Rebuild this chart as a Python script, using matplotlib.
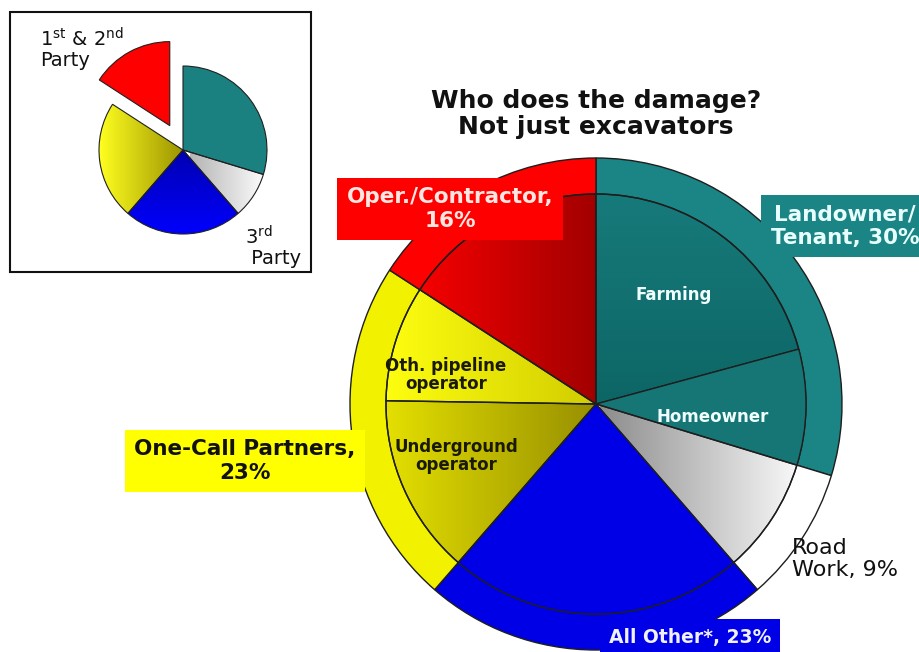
import numpy as np
import matplotlib.pyplot as plt
import matplotlib.colors as mcolors
from matplotlib.patches import Rectangle

plt.rcParams['font.family'] = ['DejaVu Sans']

W, H = 919, 652

# main categories (outer ring), clockwise from 12 o'clock
main_labels = ['Landowner/\nTenant, 30%', 'Road\nWork, 9%', 'All Other*, 23%',
               'One-Call Partners,\n23%', 'Oper./Contractor,\n16%']
main_pct = [30, 9, 23, 23, 16]
main_colors = ['#1b8484', '#ffffff', '#0000e6', '#f2f200', '#ff0000']

# sub categories (inner pie), same order
sub_labels = ['Farming', 'Homeowner', '', '', 'Underground\noperator',
              'Oth. pipeline\noperator', '']
sub_pct = [21, 9, 9, 23, 14, 9, 16]
sub_colors = ['#116e6e', '#167676', '#ffffff', '#0000e6', '#c8c200', '#f5f500', '#e00000']

# inset: 1st & 2nd party vs 3rd party
inset_pct = [30, 9, 23, 23, 16]
inset_colors = ['#1a8080', '#ffffff', '#0000dd', '#e0e000', '#ff0000']
inset_explode = [0, 0, 0, 0, 0.33]


def gradient(ax, patch, c_start, c_end, x0, x1, y0, y1, axis='x'):
    t = np.linspace(0, 1, 256)
    c0 = np.array(mcolors.to_rgb(c_start))
    c1 = np.array(mcolors.to_rgb(c_end))
    cols = c0 + (c1 - c0) * t[:, None]
    img = cols[None, :, :] if axis == 'x' else cols[::-1][:, None, :]
    im = ax.imshow(img, extent=(x0, x1, y0, y1), aspect='auto',
                   interpolation='bilinear', zorder=patch.get_zorder() - 0.1)
    im.set_clip_path(patch)
    patch.set_facecolor('none')


fig = plt.figure(figsize=(W / 100, H / 100), dpi=100)
ax = fig.add_axes([0, 0, 1, 1])

cx, cy = 596, H - 404
edge = dict(edgecolor='#1e1e1e', linewidth=1.0)

outer, _ = ax.pie(main_pct, radius=246, center=(cx, cy), startangle=90,
                  counterclock=False, colors=main_colors,
                  wedgeprops=dict(width=36, **edge), frame=True)
inner, _ = ax.pie(sub_pct, radius=210, center=(cx, cy), startangle=90,
                  counterclock=False, colors=sub_colors,
                  wedgeprops=edge, frame=True)

# shading like the original slide
gradient(ax, inner[0], '#0c6464', '#177a7a', cx, cx + 210, cy - 20, cy + 210, axis='y')
gradient(ax, inner[2], '#8c8c8c', '#ffffff', 600, 810, cy - 210, cy + 10)
gradient(ax, inner[4], '#e6e200', '#968e00', 380, 600, cy - 210, cy + 20)
gradient(ax, inner[5], '#ffff10', '#d0cc00', 380, 600, cy - 20, cy + 210)
gradient(ax, inner[6], '#ff0000', '#a00000', 400, 600, cy - 10, cy + 212)

# inner labels
sub_pos = {0: (674, 295), 1: (713, 417), 4: (456, 456), 5: (446, 375)}
for i, (x, y) in sub_pos.items():
    col = '#f0ffff' if i < 2 else '#1a1a00'
    ax.text(x, H - y, sub_labels[i], ha='center', va='center', fontsize=12,
            fontweight='bold', color=col, linespacing=1.05, zorder=5)

# outer labels with coloured boxes
box_lab = [
    (0, 845, 226, '#1b8484', '#e8ffff', 15.5),
    (4, 450, 209, '#ff0000', '#ffe6e0', 15.5),
    (3, 245, 461, '#ffff00', '#111111', 15.5),
    (2, 690, 637, '#0000e6', '#f0f0ff', 13.5),
]
for i, x, y, bc, tc, fs in box_lab:
    ax.text(x, H - y, main_labels[i], ha='center', va='center', fontsize=fs,
            fontweight='bold', color=tc, linespacing=1.2, zorder=6,
            bbox=dict(boxstyle='square,pad=0.45', facecolor=bc, edgecolor='none'))
ax.text(792, H - 559, main_labels[1], ha='left', va='center', fontsize=16,
        color='#111111', linespacing=1.15, zorder=6)

ax.text(cx, H - 114, 'Who does the damage?\nNot just excavators', ha='center',
        va='center', fontsize=18, fontweight='bold', color='#111111',
        linespacing=1.1, zorder=6)

# inset pie
icx, icy, ir = 183, H - 150, 84
ins, _ = ax.pie(inset_pct, radius=ir, center=(icx, icy), startangle=90,
                counterclock=False, colors=inset_colors,
                explode=[e * ir for e in inset_explode],
                wedgeprops=dict(edgecolor='#202020', linewidth=0.8), frame=True)
gradient(ax, ins[1], '#b4b4b4', '#ffffff', 190, 268, icy - 84, icy + 5)
gradient(ax, ins[3], '#ffff20', '#9a9200', 99, 185, icy - 84, icy + 84)
gradient(ax, ins[2], '#0000ff', '#0000b0', 110, 260, icy - 86, icy + 2, axis='y')
ax.add_patch(Rectangle((10, H - 272), 301, 260, fill=False, edgecolor='#111111',
                       linewidth=1.5, zorder=7))
ax.text(40, H - 49, '1$^{\\mathregular{st}}$ & 2$^{\\mathregular{nd}}$\nParty',
        ha='left', va='center', fontsize=14, color='#111111', linespacing=1.05,
        zorder=8)
ax.text(245, H - 247, '3$^{\\mathregular{rd}}$\n Party', ha='left', va='center',
        fontsize=14, color='#111111', linespacing=1.05, zorder=8)

ax.set_xlim(0, W)
ax.set_ylim(0, H)
ax.set_aspect('equal')
ax.axis('off')

fig.savefig('out.png', dpi=100, facecolor='white')
